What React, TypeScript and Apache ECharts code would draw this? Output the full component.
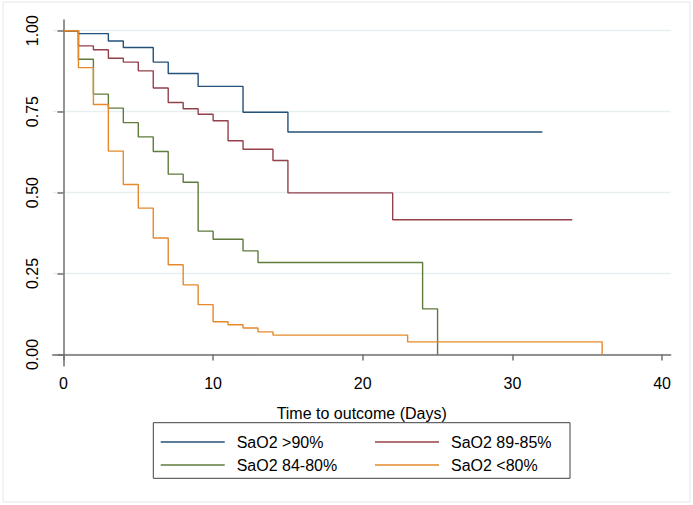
import React, { useEffect, useRef } from "react";
import * as echarts from "echarts";

const seriesNames = ["SaO2 >90%", "SaO2 89-85%", "SaO2 84-80%", "SaO2 <80%"];
const seriesColors = ["#24507a", "#94404a", "#5f7b3c", "#e5892c"];

const blueTimes = [0, 1, 3, 4, 6, 7, 9, 12, 15, 32];
const blueSurv = [1, 0.991, 0.968, 0.948, 0.903, 0.868, 0.828, 0.748, 0.687, 0.687];

const redTimes = [0, 1, 2, 3, 4, 5, 6, 7, 8, 9, 10, 11, 12, 14, 15, 22, 34];
const redSurv = [1, 0.953, 0.941, 0.915, 0.903, 0.876, 0.823, 0.778, 0.759, 0.742, 0.722, 0.66, 0.634, 0.599, 0.499, 0.416, 0.416];

const greenTimes = [0, 1, 2, 3, 4, 5, 6, 7, 8, 9, 10, 12, 13, 24, 25];
const greenSurv = [1, 0.912, 0.804, 0.761, 0.716, 0.672, 0.627, 0.557, 0.532, 0.381, 0.356, 0.32, 0.284, 0.141, 0];

const orangeTimes = [0, 1, 2, 3, 4, 5, 6, 7, 8, 9, 10, 11, 12, 13, 14, 23, 36];
const orangeSurv = [1, 0.886, 0.772, 0.628, 0.525, 0.452, 0.36, 0.277, 0.215, 0.154, 0.101, 0.092, 0.082, 0.07, 0.06, 0.039, 0];

const xTicks = [0, 10, 20, 30, 40];
const yTicks = [0, 0.25, 0.5, 0.75, 1];

const FONT = "'Liberation Sans', Arial, Helvetica, sans-serif";

export default function App() {
  const ref = useRef<HTMLDivElement>(null);
  useEffect(() => {
    document.body.style.margin = "0";
    const chart = echarts.init(ref.current!, null, { renderer: "svg" });
    const groups = [
      [blueTimes, blueSurv],
      [redTimes, redSurv],
      [greenTimes, greenSurv],
      [orangeTimes, orangeSurv],
    ];
    const series = groups.map(([t, s], i) => ({
      name: seriesNames[i],
      type: "line",
      step: "end",
      symbol: "none",
      data: t.map((x, j) => [x, s[j]]),
      lineStyle: { color: seriesColors[i], width: 1.4 },
      itemStyle: { color: seriesColors[i] },
      z: 2 + i,
    }));
    const legendCommon = {
      orient: "vertical",
      padding: 0,
      itemWidth: 64,
      itemHeight: 14,
      itemGap: 7,
      icon: "path://M0,0L64,0L64,1.3L0,1.3Z",
      textStyle: { fontFamily: FONT, fontSize: 16, color: "#000", padding: [0, 0, 0, 7] },
      selectedMode: false,
    };
    chart.setOption({
      animation: false,
      backgroundColor: "#fff",
      grid: { left: 52.7, right: 22.3, top: 20, bottom: 139 },
      xAxis: {
        type: "value",
        min: -0.72,
        max: 40.58,
        name: "Time to outcome (Days)",
        nameLocation: "middle",
        nameGap: 39,
        nameTextStyle: { fontFamily: FONT, fontSize: 16, color: "#000" },
        axisLine: { show: true, lineStyle: { color: "#707070", width: 1.5 } },
        axisTick: { show: true, length: 6, customValues: xTicks, lineStyle: { color: "#707070", width: 1.5 } },
        axisLabel: { customValues: xTicks, fontFamily: FONT, fontSize: 16, color: "#000", margin: 9 },
        splitLine: { show: false },
      },
      yAxis: {
        type: "value",
        min: -0.0355,
        max: 1.033,
        axisLine: { show: true, lineStyle: { color: "#707070", width: 1.5 } },
        axisTick: { show: true, length: 6, customValues: yTicks, lineStyle: { color: "#707070", width: 1.5 } },
        axisLabel: {
          customValues: yTicks,
          rotate: 90,
          fontFamily: FONT,
          fontSize: 16,
          color: "#000",
          margin: 12,
          formatter: (v: number) => v.toFixed(2),
        },
        splitLine: { show: true, lineStyle: { color: "#e8eff1", width: 1.3 } },
      },
      legend: [
        { ...legendCommon, left: 160.7, top: 434, data: [seriesNames[0], seriesNames[2]] },
        { ...legendCommon, left: 375, top: 434, data: [seriesNames[1], seriesNames[3]] },
      ],
      graphic: [
        {
          type: "rect",
          shape: { x: 3, y: 2, width: 687, height: 500 },
          style: { fill: "none", stroke: "#e8e8e8", lineWidth: 1 },
          silent: true,
        },
        {
          type: "rect",
          shape: { x: 153.3, y: 422.7, width: 416.7, height: 55.6 },
          style: { fill: "none", stroke: "#404040", lineWidth: 1 },
          silent: true,
        },
      ],
      series,
    });
    return () => chart.dispose();
  }, []);
  return <div ref={ref} style={{ width: 693, height: 505 }} />;
}
